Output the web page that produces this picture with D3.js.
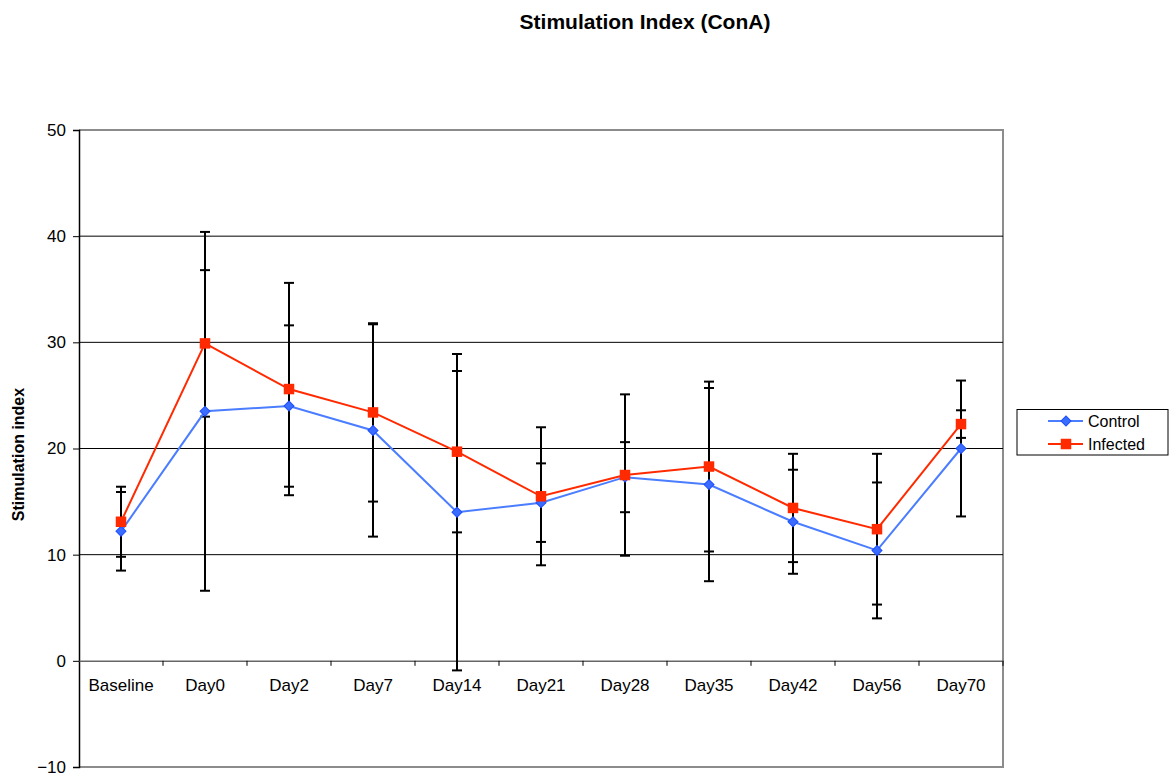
<!DOCTYPE html>
<html>
<head>
<meta charset="utf-8">
<script src="https://cdn.jsdelivr.net/npm/d3@7"></script>
<style>
  body { margin: 0; background: #fff; }
  svg { display: block; font-family: "Liberation Sans", Arial, sans-serif; }
</style>
</head>
<body>
<svg id="chart" width="1169" height="774"></svg>
<script>
const categories = ["Baseline","Day0","Day2","Day7","Day14","Day21","Day28","Day35","Day42","Day56","Day70"];
const control     = [12.2, 23.5, 24.0, 21.7, 14.0, 14.9, 17.3, 16.6, 13.1, 10.4, 20.0];
const controlErr  = [3.7, 16.9, 7.6, 10.0, 14.9, 3.7, 3.3, 9.1, 4.9, 6.4, 6.4];
const infected    = [13.1, 29.9, 25.6, 23.4, 19.7, 15.5, 17.5, 18.3, 14.4, 12.4, 22.3];
const infectedErr = [3.3, 6.9, 10.0, 8.4, 7.6, 6.5, 7.6, 8.0, 5.1, 7.1, 1.3];
const yTicks = [-10, 0, 10, 20, 30, 40, 50];
const gridValues = [10, 20, 30, 40];
const seriesNames = ["Control", "Infected"];

(function () {
const svg = d3.select("#chart");
const pL = 79, pR = 1003, pT = 130, pB = 767;

const x = d3.scaleBand().domain(categories).range([pL, pR]).padding(0);
const y = d3.scaleLinear().domain([-10, 50]).range([pB, pT]);
const cx = c => x(c) + x.bandwidth() / 2;

// frame (gray top, right, bottom)
svg.append("path")
  .attr("d", `M${pL},${pT}H${pR}V${pB}H${pL}`)
  .attr("fill", "none").attr("stroke", "#8c8c8c").attr("stroke-width", 2);

// gridlines
svg.append("g").selectAll("line").data(gridValues).join("line")
  .attr("x1", pL).attr("x2", pR)
  .attr("y1", d => y(d)).attr("y2", d => y(d))
  .attr("stroke", "#000").attr("stroke-width", 1);

// y axis
const yAxis = svg.append("g").attr("transform", `translate(${pL},0)`)
  .call(d3.axisLeft(y).tickValues(yTicks).tickSize(6).tickPadding(7).tickFormat(d3.format("d")));
yAxis.select(".domain").attr("stroke", "#000").attr("stroke-width", 1.5);
yAxis.selectAll(".tick line").attr("stroke", "#000");
yAxis.selectAll(".tick text").attr("font-size", 17).attr("fill", "#000")
  .attr("font-family", "Liberation Sans, Arial, sans-serif");

// x axis at y=0
const xAxis = svg.append("g").attr("transform", `translate(0,${y(0)})`)
  .call(d3.axisBottom(x).tickSize(0).tickPadding(18));
xAxis.select(".domain").attr("stroke", "#666").attr("stroke-width", 1.5);
xAxis.selectAll(".tick text").attr("font-size", 17).attr("fill", "#000")
  .attr("font-family", "Liberation Sans, Arial, sans-serif");
xAxis.append("g").selectAll("line").data(categories).join("line")
  .attr("x1", d => x(d) + x.bandwidth()).attr("x2", d => x(d) + x.bandwidth())
  .attr("y1", 0).attr("y2", 5).attr("stroke", "#000").attr("stroke-width", 1);

// error bars
const errData = [];
categories.forEach((c, i) => {
  errData.push({c, v: control[i], e: controlErr[i]});
  errData.push({c, v: infected[i], e: infectedErr[i]});
});
const eg = svg.append("g").attr("stroke", "#000").attr("stroke-width", 2);
eg.selectAll(".stem").data(errData).join("line").attr("class", "stem")
  .attr("x1", d => cx(d.c)).attr("x2", d => cx(d.c))
  .attr("y1", d => y(d.v + d.e)).attr("y2", d => y(d.v - d.e));
eg.selectAll(".capT").data(errData).join("line").attr("class", "capT")
  .attr("x1", d => cx(d.c) - 5).attr("x2", d => cx(d.c) + 5)
  .attr("y1", d => y(d.v + d.e)).attr("y2", d => y(d.v + d.e));
eg.selectAll(".capB").data(errData).join("line").attr("class", "capB")
  .attr("x1", d => cx(d.c) - 5).attr("x2", d => cx(d.c) + 5)
  .attr("y1", d => y(d.v - d.e)).attr("y2", d => y(d.v - d.e));

// lines
const line = d3.line().x((d, i) => cx(categories[i])).y(d => y(d));
svg.append("path").datum(control).attr("d", line)
  .attr("fill", "none").attr("stroke", "#4a7dff").attr("stroke-width", 2);
svg.append("path").datum(infected).attr("d", line)
  .attr("fill", "none").attr("stroke", "#ff2a00").attr("stroke-width", 2);

// markers
const diamond = d3.symbol().type(d3.symbolSquare).size(50);
const square = d3.symbol().type(d3.symbolSquare).size(110);
svg.append("g").selectAll("path").data(control).join("path")
  .attr("d", diamond)
  .attr("transform", (d, i) => `translate(${cx(categories[i])},${y(d)}) rotate(45)`)
  .attr("fill", "#3a6cff").attr("stroke", "#1f4fff").attr("stroke-width", 1);
svg.append("g").selectAll("path").data(infected).join("path")
  .attr("d", square)
  .attr("transform", (d, i) => `translate(${cx(categories[i])},${y(d)})`)
  .attr("fill", "#ff2a00");

// title
svg.append("text").attr("x", 645).attr("y", 29).attr("text-anchor", "middle")
  .attr("font-size", 21).attr("font-weight", "bold").text("Stimulation Index (ConA)");

// y axis title
svg.append("text").attr("transform", `translate(24,${(y(50) + y(-10)) / 2 + 6}) rotate(-90)`)
  .attr("text-anchor", "middle").attr("font-size", 16).attr("font-weight", "bold")
  .text("Stimulation index");

// legend
const lg = svg.append("g");
lg.append("rect").attr("x", 1017).attr("y", 409.5).attr("width", 151).attr("height", 45.5)
  .attr("fill", "#fff").attr("stroke", "#000").attr("stroke-width", 1);
const legendRows = [
  {name: seriesNames[0], color: "#4a7dff", sym: diamond, rot: 45, fill: "#3a6cff", stroke: "#1f4fff", yy: 421},
  {name: seriesNames[1], color: "#ff2a00", sym: square, rot: 0, fill: "#ff2a00", stroke: "none", yy: 444}
];
legendRows.forEach(r => {
  lg.append("line").attr("x1", 1048).attr("x2", 1083).attr("y1", r.yy).attr("y2", r.yy)
    .attr("stroke", r.color).attr("stroke-width", 2);
  lg.append("path").attr("d", r.sym).attr("transform", `translate(1066,${r.yy}) rotate(${r.rot})`)
    .attr("fill", r.fill).attr("stroke", r.stroke).attr("stroke-width", 1);
  lg.append("text").attr("x", 1088).attr("y", r.yy + 6).attr("font-size", 16).text(r.name);
});
})();
</script>
</body>
</html>
